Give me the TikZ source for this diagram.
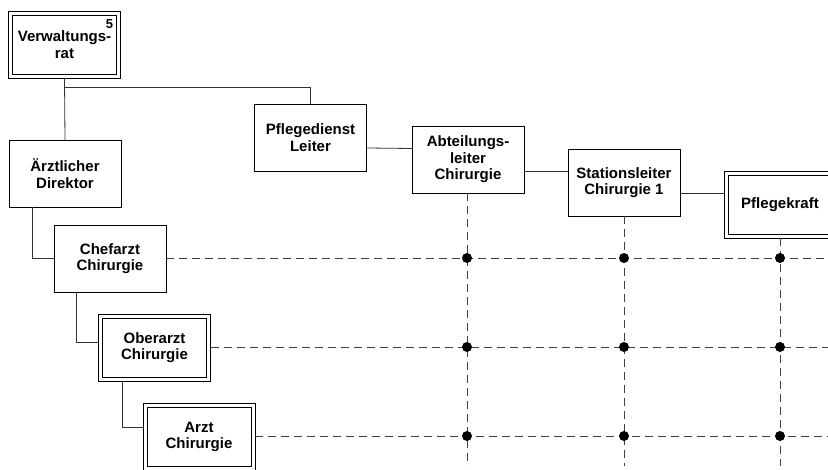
\documentclass[tikz,border=0pt]{standalone}
\usepackage{fontspec}
\setmainfont{Liberation Sans}
\usetikzlibrary{calc}
\begin{document}
\begin{tikzpicture}[x=1pt,y=-1pt,
  every node/.style={inner sep=0pt,outer sep=0pt},
  unit/.style={draw=black,line width=0.9pt,fill=white,align=center,
    minimum width=112pt,minimum height=67pt,
    font=\fontsize{15}{16.5}\selectfont\bfseries},
  frame/.style={draw=black,line width=0.9pt},
  link/.style={draw=black!80,line width=0.8pt},
  cross/.style={draw=black!75,line width=0.8pt,dash pattern=on 8pt off 5pt},
  knot/.style={circle,fill=black,minimum size=10pt}]
\useasboundingbox (0,0) rectangle (828,470);

% ends of the dashed grid lines
\coordinate (r1) at (828,258);
\coordinate (r2) at (828,347);
\coordinate (r3) at (828,436);
\coordinate (c1) at (467,466);
\coordinate (c2) at (624,466);
\coordinate (c3) at (780,466);

% boxes
\node[unit] (vr) at (64.5,44.5) {Verwaltungs-\\rat};
\node[font=\fontsize{13}{13}\selectfont\bfseries] (fn) at (109.5,24) {5};
\node[unit] (aerzt) at (65,173.5) {Ärztlicher\\Direktor};
\node[unit] (chef) at (110,258.5) {Chefarzt\\Chirurgie};
\node[unit] (ober) at (154.5,347.5) {Oberarzt\\Chirurgie};
\node[unit] (arzt) at (199,437) {Arzt\\Chirurgie};
\node[unit] (pdl) at (310.5,137.5) {Pflegedienst\\Leiter};
\node[unit] (abt) at (468,159.5) {Abteilungs-\\leiter\\Chirurgie};
\node[unit] (stat) at (624,182.5) {Stationsleiter\\Chirurgie 1};
\node[unit] (pk) at (780,204.5) {Pflegekraft};

% inner frames of the double-framed boxes
\foreach \b in {vr,ober,arzt,pk}
  \draw[frame] ($(\b.south west)+(4,-4)$) rectangle ($(\b.north east)+(-4,4)$);

% dashed responsibility grid
\draw[cross] (chef.east |- r1) -- (r1);
\draw[cross] (ober.east |- r2) -- (r2);
\draw[cross] (arzt.east |- r3) -- (r3);
\draw[cross] (abt.south -| c1) -- (c1);
\draw[cross] (stat.south -| c2) -- (c2);
\draw[cross] (pk.south -| c3) -- (c3);
\foreach \c in {c1,c2,c3}
  \foreach \r in {r1,r2,r3}
    \node[knot] at (\c |- \r) {};

% hierarchy connectors
\coordinate (split) at (65,87);
\draw[link] (vr.south) -- (aerzt.north);
\draw[link] (split) -| (pdl.north);
\draw[link] ($(aerzt.south west)+(23,0)$) |- (chef.west);
\draw[link] ($(chef.south west)+(22,0)$) |- ($(ober.west)+(0,-5.5)$);
\draw[link] ($(ober.south west)+(24,0)$) |- ($(arzt.west)+(0,-10)$);
\draw[link] ($(pdl.east)+(0,10.5)$) -- ($(abt.west)+(0,-11)$);
\draw[link] ($(abt.east)+(0,11.5)$) -- ($(stat.west)+(0,-11.5)$);
\draw[link] ($(stat.east)+(0,10.5)$) -- ($(pk.west)+(0,-11.5)$);
\end{tikzpicture}
\end{document}
